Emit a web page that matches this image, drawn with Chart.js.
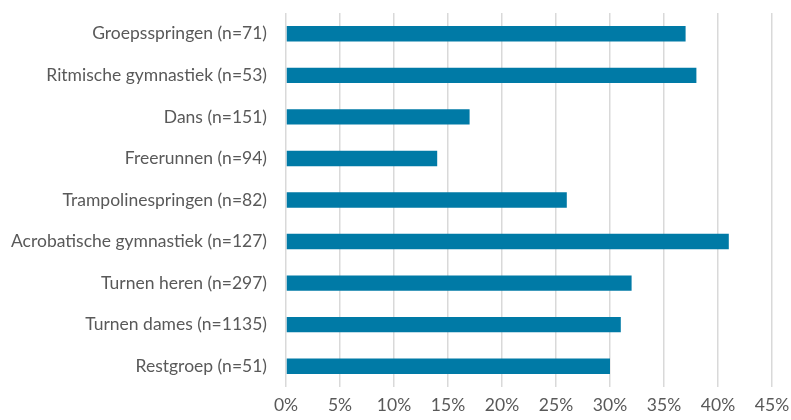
<!DOCTYPE html>
<html lang="nl">
<head>
    <meta charset="UTF-8">
    <title>Sporten</title>
    <style>
        body { margin: 0; padding: 0; background: #ffffff; }
        .chart-container { width: 791px; height: 420px; }
    </style>
    <script src="https://cdn.jsdelivr.net/npm/chart.js"></script>
</head>
<body>
    <div class="chart-container">
        <canvas id="chart"></canvas>
    </div>

    <script>
        // Categories and values (percent)
        const categories = [
            'Groepsspringen (n=71)',
            'Ritmische gymnastiek (n=53)',
            'Dans (n=151)',
            'Freerunnen (n=94)',
            'Trampolinespringen (n=82)',
            'Acrobatische gymnastiek (n=127)',
            'Turnen heren (n=297)',
            'Turnen dames (n=1135)',
            'Restgroep (n=51)'
        ];
        const values = [37, 38, 17, 14, 26, 41, 32, 31, 30];
        const xTicks = [0, 5, 10, 15, 20, 25, 30, 35, 40, 45];

        const textColor = '#595959';
        const font = { family: 'Lato', size: 17.5 };

        new Chart(document.getElementById('chart'), {
            type: 'bar',
            data: {
                labels: categories,
                datasets: [{
                    data: values,
                    backgroundColor: '#007AA6',
                    categoryPercentage: 1,
                    barPercentage: 0.37
                }]
            },
            options: {
                indexAxis: 'y',
                responsive: true,
                maintainAspectRatio: false,
                animation: false,
                layout: { padding: { top: 13, right: 19, bottom: 0, left: 0 } },
                plugins: {
                    legend: { display: false },
                    tooltip: { enabled: false }
                },
                scales: {
                    x: {
                        min: 0,
                        max: 45,
                        afterBuildTicks: (scale) => {
                            scale.ticks = xTicks.map(v => ({ value: v }));
                        },
                        ticks: {
                            color: textColor,
                            font: font,
                            padding: 8,
                            callback: (v) => v + '%'
                        },
                        grid: { color: '#d9d9d9', lineWidth: 1.5, drawTicks: false },
                        border: { display: false },
                        afterFit: (scale) => {
                            scale.height = 33;
                            scale.paddingLeft = 0;
                            scale.paddingRight = 0;
                        }
                    },
                    y: {
                        ticks: {
                            color: textColor,
                            font: font,
                            padding: 11
                        },
                        grid: { display: false },
                        border: { display: false },
                        afterFit: (scale) => {
                            scale.width = 286;
                            scale.paddingTop = 0;
                            scale.paddingBottom = 0;
                        }
                    }
                }
            }
        });
    </script>
</body>
</html>
